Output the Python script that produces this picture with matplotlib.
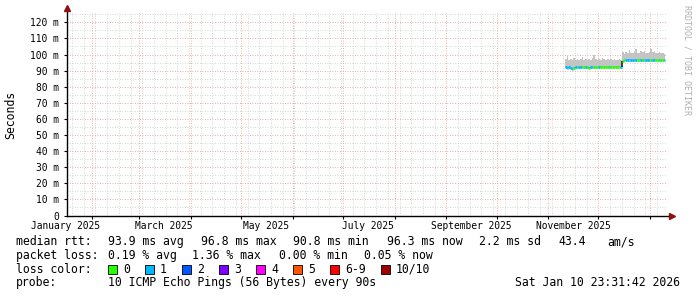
import matplotlib
matplotlib.use('Agg')
import matplotlib.pyplot as plt
import matplotlib.dates as mdates
from matplotlib.patches import Rectangle
from matplotlib.ticker import MultipleLocator
import pandas as pd

# one value per day from first_day on (ms)
first_day = '2025-11-11'
median_ms = [92.0, 91.8, 92.1, 91.6, 90.8, 91.9, 92.2, 92.3, 92.1, 92.4, 92.2, 92.0,
             92.3, 92.1, 91.7, 92.2, 92.4, 92.3, 92.2, 92.0, 92.3, 92.4, 92.2, 92.1,
             92.3, 92.4, 92.2, 92.3, 92.5, 92.4, 92.3, 92.4, 92.5, 92.3,
             96.2, 96.4, 96.5, 96.6, 96.7, 96.5, 96.6, 96.4, 96.5, 96.7, 96.6, 96.5,
             96.4, 96.6, 96.7, 96.5, 96.6, 96.8, 96.5, 96.6, 96.4, 96.7, 96.5, 96.6,
             96.4, 96.3]
smoke_top_ms = [97.5, 99.0, 96.8, 97.2, 96.5, 97.8, 96.9, 97.3, 96.6, 97.0, 98.2, 96.8,
                97.1, 96.7, 97.4, 96.9, 97.6, 99.4, 97.2, 96.8, 97.5, 96.9, 98.0, 97.1,
                96.6, 97.3, 96.8, 97.0, 96.5, 97.2, 96.7, 96.9, 97.3, 96.8,
                101.5, 100.6, 101.8, 100.9, 102.6, 101.2, 100.8, 101.5, 103.2, 101.0, 100.7, 101.9,
                101.3, 102.1, 101.0, 100.8, 101.6, 103.4, 101.8, 102.4, 101.1, 100.9, 101.7, 100.8,
                101.2, 100.6]
smoke_low_ms = [91.5, 91.3, 91.6, 91.1, 90.4, 91.4, 91.7, 91.8, 91.6, 91.9, 91.7, 91.5,
                91.8, 91.6, 91.2, 91.7, 91.9, 91.8, 91.7, 91.5, 91.8, 91.9, 91.7, 91.6,
                91.8, 91.9, 91.7, 91.8, 92.0, 91.9, 91.8, 91.9, 92.0, 91.8,
                95.8, 96.0, 96.1, 96.2, 96.3, 96.1, 96.2, 96.0, 96.1, 96.3, 96.2, 96.1,
                96.0, 96.2, 96.3, 96.1, 96.2, 96.4, 96.1, 96.2, 96.0, 96.3, 96.1, 96.2,
                96.0, 95.9]
loss_level = [1, 1, 1, 1, 1, 0, 1, 0, 1, 1, 0, 0, 1, 0, 0, 1, 1, 0, 0, 0, 1, 0, 0, 0,
              0, 0, 1, 0, 0, 0, 0, 0, 0, 1,
              0, 0, 1, 1, 1, 1, 1, 1, 1, 0, 0, 1, 0, 1, 1, 1, 1, 0, 1, 1, 0, 0, 1, 0,
              0, 1]

view_start = '2025-01-17'
view_end = '2026-01-11'
y_ticks = list(range(0, 130, 10))
month_labels = ['January 2025', 'March 2025', 'May 2025', 'July 2025',
                'September 2025', 'November 2025']
month_label_dates = ['2025-01-16', '2025-03-16', '2025-05-16', '2025-07-16',
                     '2025-09-16', '2025-11-16']

loss_names = ['0', '1', '2', '3', '4', '5', '6-9', '10/10']
loss_colors = ['#26ff00', '#00b8ff', '#0059ff', '#7e00ff', '#ff00ff',
               '#ff5500', '#ff0000', '#a10000']

W, H = 697, 297
MONO = 'DejaVu Sans Mono'


def fx(px):
    return px / W


def fy(py):
    return 1 - py / H


fig = plt.figure(figsize=(W / 100, H / 100), dpi=100)
fig.patch.set_facecolor('white')
ax = fig.add_axes([fx(67), fy(215.5), fx(667) - fx(67), fy(13) - fy(215.5)])

days = pd.date_range(first_day, periods=len(median_ms) + 1, freq='D')
x = mdates.date2num(days)

# smoke
ax.fill_between(x, smoke_low_ms + [smoke_low_ms[-1]], smoke_top_ms + [smoke_top_ms[-1]],
                step='post', color='#c4c4c4', lw=0, zorder=2)

# median, coloured by loss
for i, m in enumerate(median_ms):
    ax.hlines(m, x[i], x[i + 1], color=loss_colors[loss_level[i]], lw=2, zorder=3)
    if i + 1 < len(median_ms):
        nxt = median_ms[i + 1]
        c = '#222222' if abs(nxt - m) > 2 else loss_colors[loss_level[i + 1]]
        ax.vlines(x[i + 1], min(m, nxt), max(m, nxt), color=c, lw=1.2, zorder=3)

ax.set_xlim(mdates.date2num(pd.Timestamp(view_start)), mdates.date2num(pd.Timestamp(view_end)))
ax.set_ylim(0, 125.8)

# grids
ax.xaxis.set_major_locator(mdates.MonthLocator())
ax.xaxis.set_minor_locator(mdates.WeekdayLocator(byweekday=mdates.MO))
ax.yaxis.set_major_locator(MultipleLocator(10))
ax.yaxis.set_minor_locator(MultipleLocator(5))
ax.grid(which='minor', color='#c8c8c8', lw=0.6, ls=(0, (1, 2)))
ax.grid(which='major', color='#f09090', lw=0.6, ls=(0, (1, 2)))
ax.set_axisbelow(True)

ax.set_yticks(y_ticks)
ax.set_yticklabels(['0' if v == 0 else f'{v} m' for v in y_ticks], family=MONO, fontsize=6.9)
ax.tick_params(axis='y', which='major', length=2, width=0.8, pad=3.6, colors='#000000')
ax.tick_params(axis='y', which='minor', length=0)
ax.tick_params(axis='x', which='major', length=2, width=0.8, labelbottom=False)
ax.tick_params(axis='x', which='minor', length=0)

for spine in ax.spines.values():
    spine.set_visible(False)
ax.plot([0, 0], [0, 1.02], transform=ax.transAxes, color='black', lw=1, clip_on=False, zorder=5)
ax.plot([0, 1.005], [0, 0], transform=ax.transAxes, color='black', lw=1, clip_on=False, zorder=5)
ax.plot([0], [1.025], marker='^', ms=4, color='#8b1010', transform=ax.transAxes, clip_on=False, zorder=6)
ax.plot([1.008], [0], marker='>', ms=4, color='#8b1010', transform=ax.transAxes, clip_on=False, zorder=6)

xt = ax.get_xaxis_transform()
for lab, d in zip(month_labels, month_label_dates):
    ax.text(mdates.date2num(pd.Timestamp(d)), 0, lab, transform=xt, ha='center', va='top',
            family=MONO, fontsize=6.9)
for t in ax.texts:
    t.set_y(-0.025)

fig.text(fx(11), fy(115), 'Seconds', rotation=90, ha='center', va='center', family=MONO, fontsize=8.3)
fig.text(fx(687), fy(60), 'RRDTOOL / TOBI OETIKER', rotation=-90, ha='center', va='center',
         family=MONO, fontsize=6, color='#b0b0b0')

# legend block
fs = 8.3
rows = [241.7, 255.7, 269.3, 282.7]
fig.text(fx(16), fy(rows[0]), 'median rtt:', family=MONO, fontsize=fs, va='center')
for px, s in [(108, '93.9 ms avg'), (201, '96.8 ms max'), (293, '90.8 ms min'),
              (387, '96.3 ms now'), (479, '2.2 ms sd'), (558, '43.4'), (607, 'am/s')]:
    fig.text(fx(px), fy(rows[0]), s, family=MONO, fontsize=fs, va='center')
fig.text(fx(16), fy(rows[1]), 'packet loss:', family=MONO, fontsize=fs, va='center')
for px, s in [(108, '0.19 % avg'), (192, '1.36 % max'), (279, '0.00 % min'), (364, '0.05 % now')]:
    fig.text(fx(px), fy(rows[1]), s, family=MONO, fontsize=fs, va='center')
fig.text(fx(16), fy(rows[2]), 'loss color:', family=MONO, fontsize=fs, va='center')
box_x = [108, 145, 182, 219, 256, 293, 330, 381]
for bx, name, col in zip(box_x, loss_names, loss_colors):
    fig.patches.append(Rectangle((fx(bx), fy(rows[2] + 4.5)), 9 / W, 9 / H, transform=fig.transFigure,
                                 facecolor=col, edgecolor='black', lw=0.6))
    fig.text(fx(bx + 15), fy(rows[2]), name, family=MONO, fontsize=fs, va='center')
fig.text(fx(16), fy(rows[3]), 'probe:', family=MONO, fontsize=fs, va='center')
fig.text(fx(108), fy(rows[3]), '10 ICMP Echo Pings (56 Bytes) every 90s', family=MONO, fontsize=fs, va='center')
fig.text(fx(680), fy(rows[3]), 'Sat Jan 10 23:31:42 2026', family=MONO, fontsize=fs, va='center', ha='right')

fig.savefig('out.png', dpi=100)
